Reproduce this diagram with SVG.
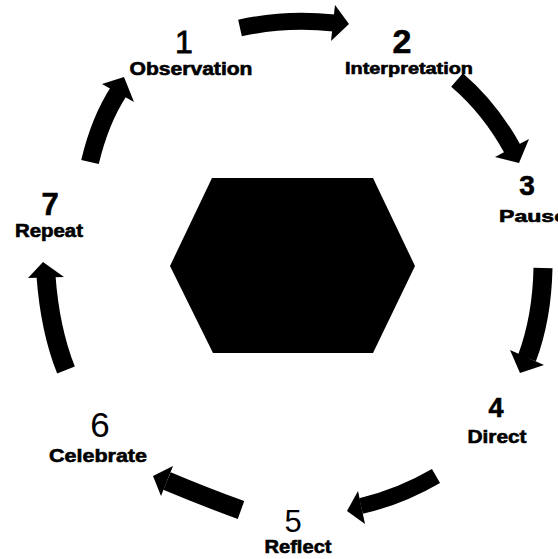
<svg xmlns="http://www.w3.org/2000/svg" width="558" height="559" viewBox="0 0 558 559">
<style>
.lbl{font-family:"Liberation Sans",Arial,sans-serif;font-weight:bold;fill:#000;stroke:#000;stroke-width:0.6;text-anchor:middle}
.num{font-family:"Liberation Sans",Arial,sans-serif;fill:#000;text-anchor:middle}
.b{font-weight:bold;stroke:#000;stroke-width:0.6}
.body{fill:none;stroke:#000;stroke-width:17;stroke-linecap:butt}
.head{fill:#000}
</style>
<rect width="558" height="559" fill="#fff"/>
<g id="hexagon">
<polygon points="212,178 373,178 415,266 373,353 213,353 170,266" fill="#000"/>
</g>
<g id="connectors">
<path class="body" d="M240,28 Q285,18 334,23"/>
<polygon class="head" points="335,5 349,24 331,41"/>
<path class="body" style="stroke-width:18" d="M457,80 Q490,108 513,150"/>
<polygon class="head" points="495,157 529,139 519,163"/>
<path class="body" style="stroke-width:19" d="M543,268 Q542,318 527,358"/>
<polygon class="head" points="510,350 544,365 520,373"/>
<path class="body" style="stroke-width:16" d="M436,476 Q400,497 361,506"/>
<polygon class="head" points="358,491 365,524 347,511"/>
<path class="body" style="stroke-width:19" d="M241,510 Q205,497 167,481"/>
<polygon class="head" points="173,466 161,496 153,476"/>
<path class="body" style="stroke-width:19" d="M66,370 Q50,330 46,276"/>
<polygon class="head" points="28,278 43,262 64,277"/>
<path class="body" style="stroke-width:18" d="M90,162 Q100,120 119,91"/>
<polygon class="head" points="102,84 124,77 134,102"/>
</g>
<g id="node1">
<text class="num" x="184" y="53" font-size="32" stroke="#000" stroke-width="0.8">1</text>
<text class="lbl" x="191" y="75" font-size="18" textLength="123" lengthAdjust="spacingAndGlyphs">Observation</text>
</g>
<g id="node2">
<text class="num b" x="402" y="53" font-size="34">2</text>
<text class="lbl" x="409" y="74" font-size="16" textLength="128" lengthAdjust="spacingAndGlyphs">Interpretation</text>
</g>
<g id="node3">
<text class="num b" x="527" y="195" font-size="28">3</text>
<text class="lbl" x="533" y="222" font-size="17" textLength="68" lengthAdjust="spacingAndGlyphs">Pause</text>
</g>
<g id="node4">
<text class="num b" x="496" y="417" font-size="27">4</text>
<text class="lbl" x="497" y="443" font-size="18" textLength="59" lengthAdjust="spacingAndGlyphs">Direct</text>
</g>
<g id="node5">
<text class="num" x="293" y="532" font-size="31">5</text>
<text class="lbl" x="298" y="553" font-size="18" textLength="67" lengthAdjust="spacingAndGlyphs">Reflect</text>
</g>
<g id="node6">
<text class="num" x="100" y="437" font-size="35">6</text>
<text class="lbl" x="98" y="462" font-size="19" textLength="98" lengthAdjust="spacingAndGlyphs">Celebrate</text>
</g>
<g id="node7">
<text class="num b" x="50" y="215" font-size="31">7</text>
<text class="lbl" x="49" y="237" font-size="18" textLength="68" lengthAdjust="spacingAndGlyphs">Repeat</text>
</g>
</svg>
